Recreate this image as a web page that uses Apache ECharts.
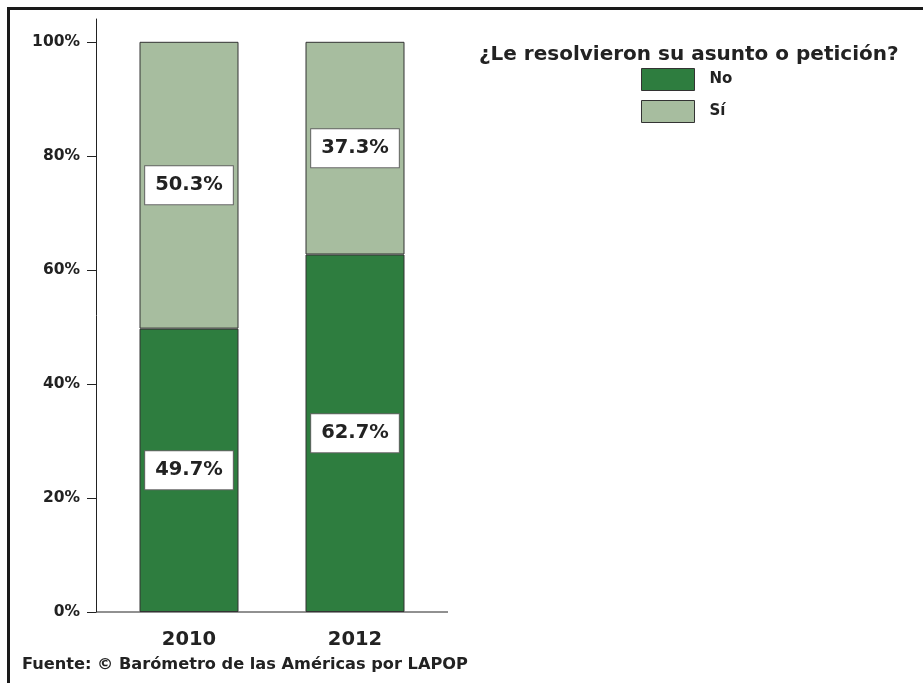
<!DOCTYPE html>
<html>
<head>
<meta charset="utf-8">
<script src="https://cdn.jsdelivr.net/npm/echarts@6/dist/echarts.min.js"></script>
<style>html,body{margin:0;padding:0;background:#fff;}#chart{width:923px;height:683px;}</style>
</head>
<body>
<div id="chart"></div>
<script>
const categories = ['2010', '2012'];
const seriesNames = ['No', 'Sí'];
const valuesNo = [49.7, 62.7];
const valuesSi = [50.3, 37.3];
const yTicks = [0, 20, 40, 60, 80, 100];
const legendTitle = '¿Le resolvieron su asunto o petición?';
const sourceText = 'Fuente: © Barómetro de las Américas por LAPOP';

const FONT = '"DejaVu Sans", Verdana, sans-serif';
const chart = echarts.init(document.getElementById('chart'));

const labelStyle = {
  show: true,
  position: 'inside',
  formatter: p => p.value.toFixed(1) + '%',
  backgroundColor: '#fff',
  borderColor: '#666',
  borderWidth: 1,
  padding: [10, 10, 8, 10],
  color: '#222',
  fontFamily: FONT,
  fontWeight: 'bold',
  fontSize: 19.5
};

chart.setOption({
  animation: false,
  title: [
    { text: legendTitle, left: 479, top: 45, padding: 0,
      textStyle: { fontFamily: FONT, fontWeight: 'bold', fontSize: 20, color: '#222' } },
    { text: sourceText, left: 22, top: 657, padding: 0,
      textStyle: { fontFamily: FONT, fontWeight: 'bold', fontSize: 16.2, color: '#222' } }
  ],
  legend: {
    data: seriesNames,
    orient: 'vertical',
    left: 641,
    top: 68,
    padding: 0,
    itemWidth: 53,
    itemHeight: 22,
    itemGap: 9,
    icon: 'rect',
    textStyle: { fontFamily: FONT, fontWeight: 'bold', fontSize: 15, color: '#222', padding: [2, 0, 0, 10] },
    itemStyle: { borderColor: '#333', borderWidth: 1 }
  },
  grid: { left: 106, right: 485, top: 19, bottom: 71 },
  xAxis: {
    type: 'category',
    data: categories,
    axisLine: { show: false },
    axisTick: { show: false },
    axisLabel: { margin: 18, fontFamily: FONT, fontWeight: 'bold', fontSize: 19.5, color: '#222' }
  },
  yAxis: {
    type: 'value',
    min: 0,
    max: 104,
    interval: 20,
    offset: 10,
    splitLine: { show: false },
    axisLine: { show: true, lineStyle: { color: '#222', width: 1 } },
    axisTick: { show: true, length: 9, customValues: yTicks, lineStyle: { color: '#222' } },
    axisLabel: { customValues: yTicks, margin: 16, formatter: v => v + '%',
      fontFamily: FONT, fontWeight: 'bold', fontSize: 15.5, color: '#222' }
  },
  series: [
    { name: seriesNames[0], type: 'bar', stack: 'a', data: valuesNo, barWidth: 99,
      itemStyle: { color: '#2e7d3f', borderColor: '#333', borderWidth: 1 },
      label: labelStyle },
    { name: seriesNames[1], type: 'bar', stack: 'a', data: valuesSi, barWidth: 99,
      itemStyle: { color: '#a7bd9f', borderColor: '#333', borderWidth: 1 },
      label: labelStyle }
  ]
});

// decorative frame and extended x-axis baseline
const y0 = chart.convertToPixel({ yAxisIndex: 0 }, 0);
chart.setOption({
  graphic: [
    { type: 'line', shape: { x1: 96, y1: y0, x2: 448, y2: y0 }, style: { stroke: '#222', lineWidth: 1 } },
    { type: 'line', shape: { x1: 8.5, y1: 8.5, x2: 923, y2: 8.5 }, style: { stroke: '#1a1a1a', lineWidth: 3 } },
    { type: 'line', shape: { x1: 8.5, y1: 7, x2: 8.5, y2: 683 }, style: { stroke: '#1a1a1a', lineWidth: 3 } }
  ]
});
</script>
</body>
</html>
